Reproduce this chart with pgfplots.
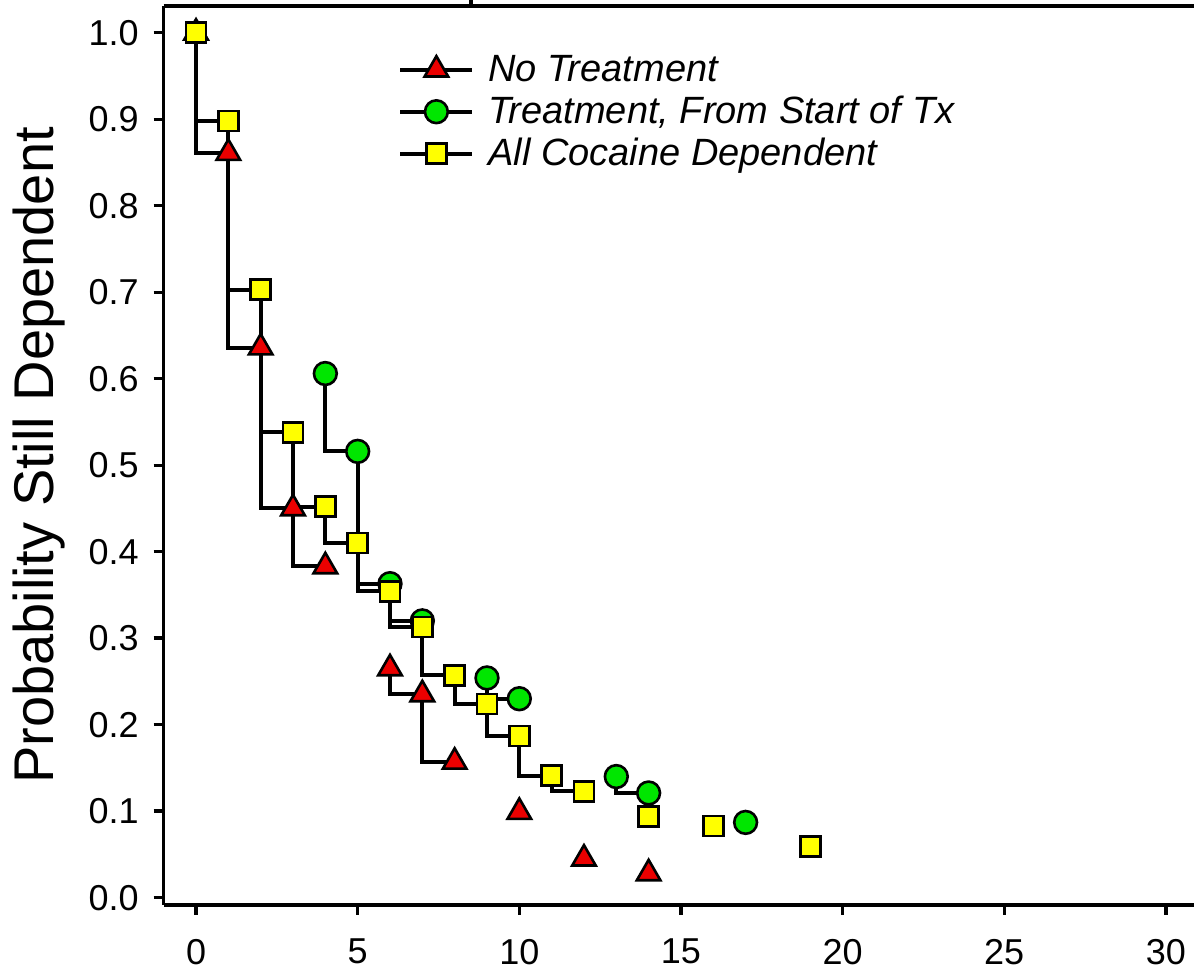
\documentclass[border=0pt]{standalone}
\usepackage{fontspec}
\setmainfont{Liberation Sans}
\usepackage{pgfplots}
\pgfplotsset{compat=1.18}
\definecolor{mkred}{RGB}{235,0,0}
\definecolor{mkgreen}{RGB}{0,230,0}
\definecolor{mkyellow}{RGB}{255,255,0}

\pgfplotstableread{
x y
0 1.000
1 0.861
2 0.636
3 0.450
4 0.383
nan nan
6 0.265
7 0.235
8 0.157
nan nan
10 0.099
nan nan
12 0.045
nan nan
14 0.028
}\notx

\pgfplotstableread{
x y
4 0.606
5 0.516
6 0.363
7 0.320
nan nan
9 0.254
10 0.230
nan nan
13 0.140
14 0.121
nan nan
17 0.087
}\tx

\pgfplotstableread{
x y
0 1.000
1 0.898
2 0.703
3 0.538
4 0.452
5 0.410
6 0.354
7 0.313
8 0.257
9 0.224
10 0.187
11 0.141
12 0.123
nan nan
14 0.094
nan nan
16 0.083
nan nan
19 0.059
}\allcd

\begin{document}
\begin{tikzpicture}
\begin{axis}[
  at={(0pt,0pt)}, anchor=south west,
  scale only axis, width=515.15pt, height=449.5pt,
  xmin=-1, xmax=30.87, ymin=-0.0085, ymax=1.031,
  axis x line*=box, axis y line*=left,
  axis line style={line width=1.8pt},
  xtick={0,5,...,30}, ytick={0,0.1,...,1.0},
  tick align=outside, xtick pos=left, ytick pos=left,
  major tick length=5pt,
  every tick/.style={line width=1.7pt, black},
  tick label style={font=\fontsize{18}{21}\selectfont},
  /pgf/number format/assume math mode=true,
  yticklabel style={xshift=-4pt, /pgf/number format/.cd, fixed, fixed zerofill, precision=1},
  xticklabel style={yshift=-8.5pt},
  ylabel={Probability Still Dependent},
  ylabel style={font=\fontsize{28}{34}\selectfont, at={(axis description cs:-0.107,0.5)}, anchor=base, inner sep=0pt},
  legend style={at={(axis description cs:0.2274,0.9518)}, anchor=north west, draw=none, fill=none, inner xsep=0pt, inner ysep=0pt, font=\fontsize{19}{22}\selectfont\itshape, row sep=1pt, column sep=7pt, nodes={inner sep=0pt, text height=16pt, text depth=4pt}},
  legend cell align=left,
  legend image code/.code={\draw[mark repeat=2,mark phase=2,#1] plot coordinates {(0pt,0pt) (18pt,0pt) (36pt,0pt)};},
  unbounded coords=jump,
  clip=false,
]
\addplot[black, line width=2pt, const plot mark right, mark=triangle*, mark size=6.8pt, mark options={fill=mkred, draw=black, line width=1.3pt, solid}] table[x=x,y=y] {\notx};
\addlegendentry{No Treatment}
\addplot[black, line width=2pt, const plot mark right, mark=*, mark size=5.7pt, mark options={fill=mkgreen, draw=black, line width=1.3pt, solid}] table[x=x,y=y] {\tx};
\addlegendentry{Treatment, From Start of Tx}
\addplot[black, line width=2pt, const plot mark right, mark=square*, mark size=5.0pt, mark options={fill=mkyellow, draw=black, line width=1.3pt, solid}] table[x=x,y=y] {\allcd};
\addlegendentry{All Cocaine Dependent}
\draw[line width=1.8pt] (axis cs:8.5,1.031) -- ++(0pt,5pt);
\end{axis}
\pgfresetboundingbox
\path[use as bounding box] (-81.85pt,-33.5pt) rectangle (515.15pt,452.5pt);
\end{tikzpicture}
\end{document}
